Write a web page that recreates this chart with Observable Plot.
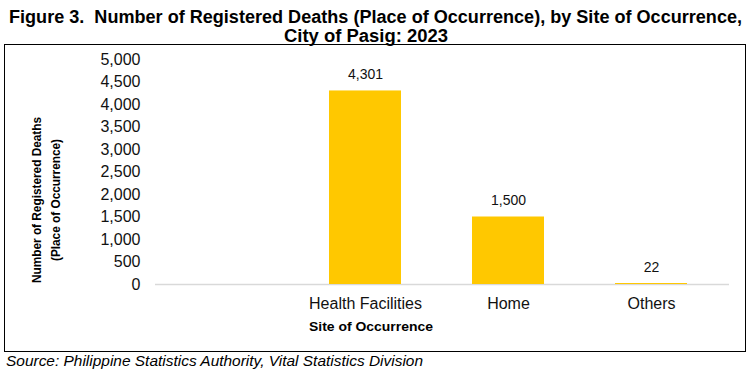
<!DOCTYPE html>
<html><head><meta charset="utf-8">
<script src="https://cdn.jsdelivr.net/npm/d3@7"></script>
<script src="https://cdn.jsdelivr.net/npm/@observablehq/plot@0.6"></script>
<style>
body{margin:0;background:#fff;font-family:"Liberation Sans",Arial,sans-serif;}
#wrap{position:relative;width:752px;height:375px;overflow:hidden;background:#fff;}
.t{position:absolute;white-space:nowrap;color:#000;transform-origin:0 0;line-height:1;}
.title{font-weight:bold;font-size:18px;}
#box{position:absolute;left:4px;top:44px;width:742px;height:308px;border:1.5px solid #000;box-sizing:border-box;}
#chart{position:absolute;left:0;top:44px;}
#ytitle{position:absolute;font-weight:bold;font-size:12px;line-height:19px;text-align:center;white-space:nowrap;color:#000;}
</style></head><body>
<div id="wrap">
  <div id="box"></div>
  <div id="chart"></div>
  <div class="t title" id="t1">Figure 3.&nbsp; Number of Registered Deaths (Place of Occurrence), by Site of Occurrence,</div>
  <div class="t title" id="t2">City of Pasig: 2023</div>
  <div id="ytitle">Number of Registered Deaths<br>(Place of Occurrence)</div>
  <div class="t" id="xtitle" style="font-weight:bold;font-size:13px;">Site of Occurrence</div>
  <div class="t" id="src" style="font-style:italic;font-size:14px;">Source: Philippine Statistics Authority, Vital Statistics Division</div>
</div>
<script>
const categories = ["Health Facilities", "Home", "Others"];
const deaths = [4301, 1500, 22];
const yTicks = [0, 500, 1000, 1500, 2000, 2500, 3000, 3500, 4000, 4500, 5000];
const data = categories.map((c, i) => ({site: c, value: deaths[i]}));
const fmt = d3.format(",");

const chart = Plot.plot({
  width: 752, height: 308,
  marginLeft: 150, marginRight: 29, marginTop: 15, marginBottom: 68,
  style: {fontFamily: "Liberation Sans, Arial, sans-serif", fontSize: "16px", color: "#111", background: "transparent", overflow: "visible"},
  x: {domain: [" ", ...categories], paddingInner: 0.5, paddingOuter: 0.25, label: null, tickSize: 0, tickPadding: 13},
  y: {domain: [0, 5000], ticks: yTicks, tickFormat: fmt, label: null, tickSize: 0, tickPadding: 10},
  marks: [
    Plot.ruleY([0], {stroke: "#d9d9d9", strokeWidth: 1.5, insetLeft: 5, insetRight: -6}),
    Plot.barY(data, {x: "site", y: "value", fill: "#FFC800"}),
    Plot.text(data, {x: "site", y: "value", text: d => fmt(d.value), dy: -16, fontSize: 14, fill: "#111"})
  ]
});
document.getElementById("chart").appendChild(chart);

function fit(id, left, width, cy) {
  const el = document.getElementById(id);
  const r = el.getBoundingClientRect();
  const s = width / r.width;
  el.style.left = left + "px";
  el.style.top = (cy - r.height / 2) + "px";
  el.style.transform = `scale(${s},1)`;
}
fit("t1", 9, 733, 17);
fit("t2", 284, 164, 36);
fit("xtitle", 309, 124, 326);
fit("src", 6, 417, 361);

// rotated y title
const yt = document.getElementById("ytitle");
const rr = yt.getBoundingClientRect();
const sx = 166 / rr.width;
const cx = 47, cy = 200;
yt.style.left = (cx - rr.width / 2) + "px";
yt.style.top = (cy - rr.height / 2) + "px";
yt.style.transform = `rotate(-90deg) scale(${sx},1)`;
yt.style.transformOrigin = "50% 50%";
</script>
</body></html>
